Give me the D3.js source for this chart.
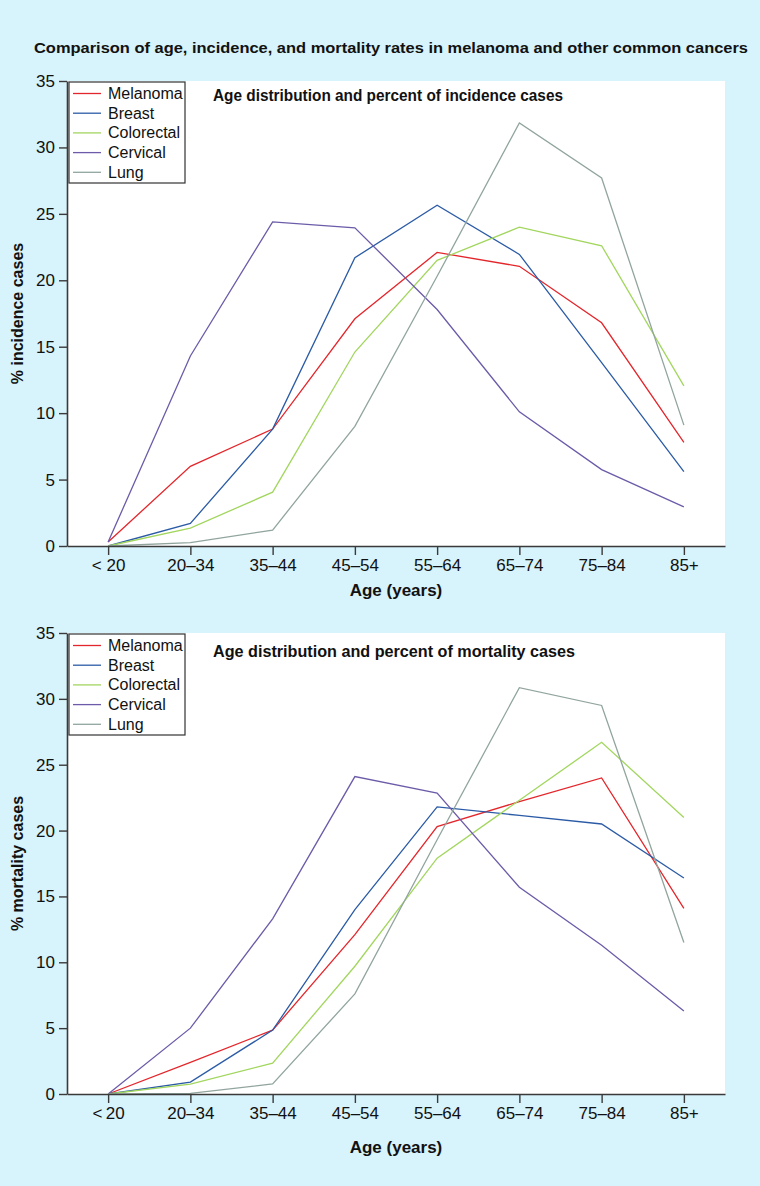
<!DOCTYPE html>
<html><head><meta charset="utf-8">
<script src="https://cdn.jsdelivr.net/npm/d3@7"></script>
<style>
html,body{margin:0;padding:0;background:#d7f3fb;}
svg{display:block;}
text{font-family:"Liberation Sans",Arial,Helvetica,sans-serif;fill:#111;}
</style></head>
<body>
<svg id="chart" width="760" height="1186"></svg>
<script>
const title = "Comparison of age, incidence, and mortality rates in melanoma and other common cancers";
const agesTop = ["< 20","20–34","35–44","45–54","55–64","65–74","75–84","85+"];
const agesBottom = ["<\u200920","20–34","35–44","45–54","55–64","65–74","75–84","85+"];
const seriesNames = ["Melanoma","Breast","Colorectal","Cervical","Lung"];
const seriesColors = ["#e3262b","#2b5ba6","#a2d65e","#6c5ba9","#91a59d"];
const yTicks = [0,5,10,15,20,25,30,35];

const incMelanoma   = [0.3, 6.0, 8.8, 17.1, 22.1, 21.05, 16.8, 7.8];
const incBreast     = [0, 1.7, 8.8, 21.7, 25.65, 21.95, 13.8, 5.6];
const incColorectal = [0, 1.35, 4.05, 14.6, 21.5, 24.0, 22.6, 12.05];
const incCervical   = [0.3, 14.3, 24.4, 23.95, 17.8, 10.1, 5.75, 2.95];
const incLung       = [0, 0.25, 1.2, 9.0, 20.3, 31.85, 27.7, 9.1];

const morMelanoma   = [0, 2.4, 4.85, 12.1, 20.3, 22.2, 24.0, 14.1];
const morBreast     = [0, 0.9, 4.85, 14.0, 21.8, 21.15, 20.5, 16.4];
const morColorectal = [0, 0.75, 2.35, 9.7, 17.9, 22.3, 26.7, 21.0];
const morCervical   = [0, 5.0, 13.3, 24.1, 22.85, 15.7, 11.3, 6.3];
const morLung       = [0, 0.05, 0.76, 7.6, 19.3, 30.85, 29.5, 11.5];

const svg = d3.select("#chart");

svg.append("text").attr("x", 391).attr("y", 53).attr("text-anchor","middle")
  .attr("font-size", 15).attr("font-weight","bold")
  .attr("textLength", 714).attr("lengthAdjust","spacingAndGlyphs").text(title);

function drawChart(opts){
  const {top, bottom, ages, data, subtitle, subW, subY, yTitle, xTitleOff} = opts;
  const x = d3.scalePoint().domain(ages).range([67,725]).padding(0.5);
  const y = d3.scaleLinear().domain([0,35]).range([bottom, top]);
  const g = svg.append("g");
  g.append("rect").attr("x",67).attr("y",top).attr("width",725-67).attr("height",bottom-top).attr("fill","#fff");

  const line = d3.line().x((d,i)=>x(ages[i])).y(d=>y(d));
  data.forEach((vals,k)=>{
    g.append("path").attr("d", line(vals)).attr("fill","none")
      .attr("stroke", seriesColors[k]).attr("stroke-width",1.3).attr("stroke-linejoin","miter");
  });

  const yAxis = d3.axisLeft(y).tickValues(yTicks).tickSize(8).tickPadding(4).tickSizeOuter(0);
  const ya = g.append("g").attr("transform","translate(67,0)").call(yAxis);
  const xAxis = d3.axisBottom(x).tickSize(9).tickPadding(4).tickSizeOuter(0);
  const xa = g.append("g").attr("transform",`translate(0,${bottom})`).call(xAxis);
  [ya,xa].forEach(a=>{
    a.attr("font-size",17);
    a.select(".domain").attr("stroke","#3a3a3a").attr("stroke-width",1.6);
    a.selectAll(".tick line").attr("stroke","#3a3a3a").attr("stroke-width",1.4);
    a.selectAll(".tick text").attr("font-size",17).attr("fill","#111")
      .attr("font-family","'Liberation Sans',Arial,sans-serif");
  });

  g.append("text").attr("x",213).attr("y",subY).attr("font-size",16).attr("font-weight","bold")
    .attr("textLength", subW).attr("lengthAdjust","spacingAndGlyphs").text(subtitle);

  g.append("text").attr("transform",`translate(23,${(top+bottom)/2}) rotate(-90)`)
    .attr("text-anchor","middle").attr("font-size",16).attr("font-weight","bold").text(yTitle);
  g.append("text").attr("x",396).attr("y",bottom+xTitleOff).attr("text-anchor","middle")
    .attr("font-size",17).attr("font-weight","bold").text("Age (years)");

  const lg = g.append("g").attr("transform",`translate(69,${top+1})`);
  lg.append("rect").attr("x",0).attr("y",0).attr("width",116).attr("height",101)
    .attr("fill","#fff").attr("stroke","#333").attr("stroke-width",1.2);
  seriesNames.forEach((n,k)=>{
    const cy = 11.5 + k*19.7;
    lg.append("line").attr("x1",4).attr("x2",32).attr("y1",cy).attr("y2",cy)
      .attr("stroke",seriesColors[k]).attr("stroke-width",1.3);
    lg.append("text").attr("x",39).attr("y",cy+5.5).attr("font-size",16).text(n);
  });
}

drawChart({top:81, bottom:546, ages:agesTop,
  data:[incMelanoma,incBreast,incColorectal,incCervical,incLung],
  subtitle:"Age distribution and percent of incidence cases", subW:350, subY:101,
  yTitle:"% incidence cases", xTitleOff:50});

drawChart({top:633, bottom:1094, ages:agesBottom,
  data:[morMelanoma,morBreast,morColorectal,morCervical,morLung],
  subtitle:"Age distribution and percent of mortality cases", subW:362, subY:657,
  yTitle:"% mortality cases", xTitleOff:59});
</script>
</body></html>
